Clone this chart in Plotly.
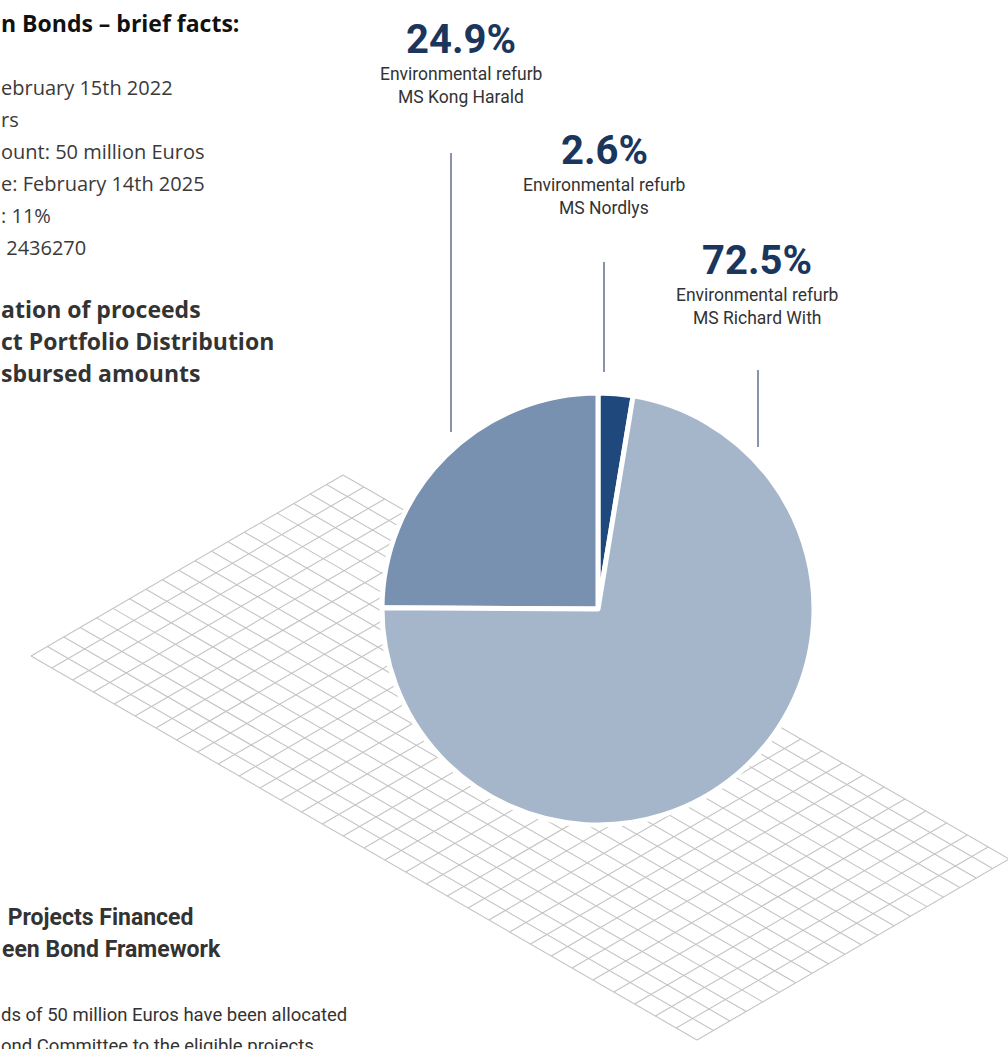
import numpy as np
import plotly.graph_objects as go

# ---------------- data ----------------
# order chosen so plotly's counterclockwise layout puts Nordlys just right of 12 o'clock
projects = ["MS Nordlys", "MS Kong Harald", "MS Richard With"]
shares = [2.6, 24.9, 72.5]
slice_colors = ["#1F497D", "#7891B0", "#A5B5CA"]
category = "Environmental refurb"

facts_heading = "n Bonds – brief facts:"
facts_lines = ["ebruary 15th 2022", "rs", "ount: 50 million Euros",
               "e: February 14th 2025", ": 11%", " 2436270"]
alloc_lines = ["ation of proceeds", "ct Portfolio Distribution", "sbursed amounts"]
bottom_heading = [" Projects Financed", "een Bond Framework"]
bottom_body = ["ds of 50 million Euros have been allocated",
               "ond Committee to the eligible projects"]

# ---------------- canvas ----------------
W, H = 1008, 1049
fig = go.Figure()

# isometric grid (decoration)
L = np.array([31.0, 656.0]); T = np.array([343.0, 475.0])
R = np.array([1009.0, 859.0]); B = L + (R - T)
n_short, n_long = 19, 32
gx, gy = [], []
for i in range(n_long + 1):
    f = i / n_long
    p0 = L + (B - L) * f
    p1 = T + (R - T) * f
    gx += [p0[0], p1[0], None]; gy += [p0[1], p1[1], None]
for j in range(n_short + 1):
    f = j / n_short
    p0 = L + (T - L) * f
    p1 = B + (R - B) * f
    gx += [p0[0], p1[0], None]; gy += [p0[1], p1[1], None]
fig.add_trace(go.Scatter(x=gx, y=gy, mode="lines",
                         line=dict(color="#c4c4c4", width=1.1),
                         hoverinfo="skip", showlegend=False))

# leader lines
leaders = {"MS Kong Harald": (451, 153, 432),
           "MS Nordlys": (604, 262, 372),
           "MS Richard With": (758, 370, 447)}
lx, ly = [], []
for k, (x, y0, y1) in leaders.items():
    lx += [x, x, None]; ly += [y0, y1, None]
fig.add_trace(go.Scatter(x=lx, y=ly, mode="lines",
                         line=dict(color="#5f7190", width=1.5),
                         hoverinfo="skip", showlegend=False))

# pie
cx, cy, r = 598, 609, 216
fig.add_trace(go.Pie(
    labels=projects, values=shares, sort=False, direction="counterclockwise",
    rotation=0, marker=dict(colors=slice_colors, line=dict(color="white", width=5)),
    textinfo="none", hoverinfo="label+percent", showlegend=False,
    domain=dict(x=[(cx - r) / W, (cx + r) / W],
                y=[1 - (cy + r) / H, 1 - (cy - r) / H])))

# percentage labels
label_pos = {"MS Kong Harald": (461, 38), "MS Nordlys": (604, 149),
             "MS Richard With": (757, 259)}
pct_font = dict(family="Roboto, sans-serif", size=40, color="#1B365D")
lab_font = dict(family="Roboto, Inter, sans-serif", size=17.5, color="#333333")
for name, val in zip(projects, shares):
    x, y = label_pos[name]
    fig.add_annotation(x=x, y=y + 1, text=f"<b>{val}%</b>", showarrow=False,
                       font=pct_font, xanchor="center", yanchor="middle")
    fig.add_annotation(x=x, y=y + 36, text=category, showarrow=False,
                       font=lab_font, xanchor="center", yanchor="middle")
    fig.add_annotation(x=x, y=y + 59, text=name, showarrow=False,
                       font=lab_font, xanchor="center", yanchor="middle")

# left text column
def left_text(y, text, font, xs=-1):
    fig.add_annotation(x=0, y=y, xshift=xs, text=text, showarrow=False,
                       xanchor="left", yanchor="middle", font=font)

left_text(23, f"<b>{facts_heading}</b>",
          dict(family="Open Sans, sans-serif", size=23, color="#111111"))
for i, t in enumerate(facts_lines):
    left_text(87 + 32 * i, t, dict(family="Open Sans, sans-serif", size=20, color="#3a3a3a"))
for i, t in enumerate(alloc_lines):
    left_text(309 + 32 * i, f"<b>{t}</b>",
              dict(family="Open Sans, sans-serif", size=23, color="#333333"))
for i, t in enumerate(bottom_heading):
    left_text(917 + 32 * i, f"<b>{t}</b>",
              dict(family="Roboto, sans-serif", size=23, color="#333333"), xs=0)
for i, t in enumerate(bottom_body):
    left_text(1015 + 31 * i, t, dict(family="Roboto, sans-serif", size=18.5, color="#333333"))

fig.update_xaxes(range=[0, W], visible=False, fixedrange=True)
fig.update_yaxes(range=[H, 0], visible=False, fixedrange=True)
fig.update_layout(width=W, height=H, margin=dict(l=0, r=0, t=0, b=0),
                  paper_bgcolor="white", plot_bgcolor="white")

fig.write_html("out.html", config={"displayModeBar": False},
               post_script="document.body.style.margin='0';document.body.style.overflow='hidden';")
